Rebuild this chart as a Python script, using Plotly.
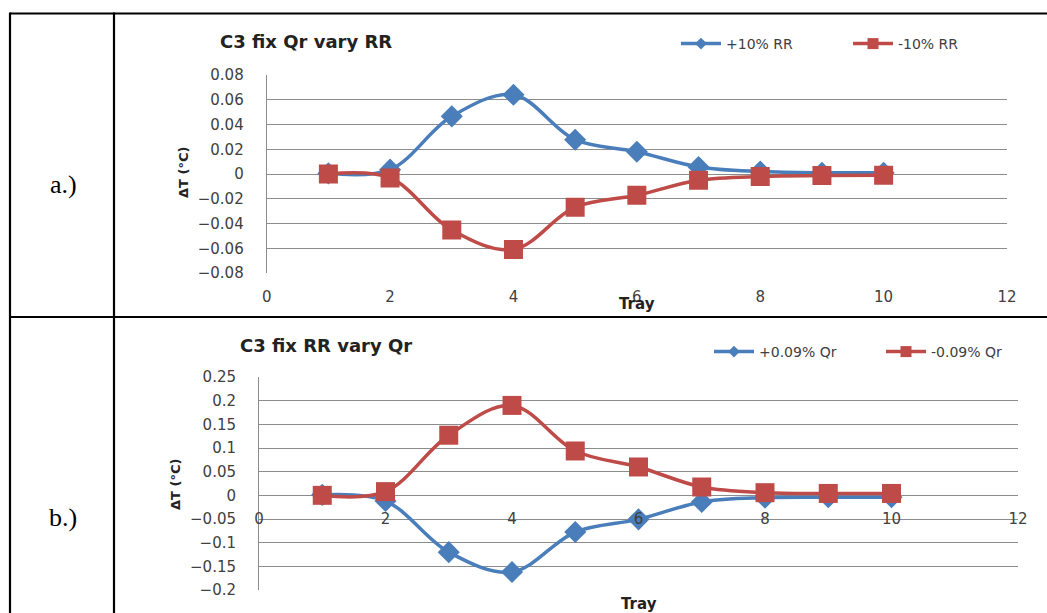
import plotly.graph_objects as go

W, H = 1047, 613

trays = [1, 2, 3, 4, 5, 6, 7, 8, 9, 10]
rr_plus = [0.0005, 0.0035, 0.0466, 0.064, 0.0277, 0.018, 0.0057, 0.002, 0.001, 0.001]
rr_minus = [0.0, -0.0032, -0.0453, -0.061, -0.0268, -0.0172, -0.0051, -0.002, -0.0013, -0.001]
qr_plus = [0.001, -0.012, -0.12, -0.162, -0.0775, -0.0507, -0.014, -0.005, -0.004, -0.004]
qr_minus = [0.0, 0.0078, 0.127, 0.190, 0.0937, 0.0599, 0.0176, 0.0056, 0.004, 0.004]

BLUE = "#4A7EBB"
RED = "#BE4B48"
GRID = "#8C8C8C"
FONT = "DejaVu Sans"


def px(x):
    return x / W


def py(y):
    return 1 - y / H


fig = go.Figure()


def add_pair(xa, ya, s1, n1, s2, n2, leg1, leg2):
    for s, n, col, sym, sz, leg in ((s1, n1, BLUE, "diamond", 17, leg1),
                                    (s2, n2, RED, "square", 19, leg2)):
        fig.add_trace(go.Scatter(
            x=trays, y=s, name=n, xaxis=xa, yaxis=ya, showlegend=False,
            mode="lines+markers",
            line=dict(color=col, width=3.5, shape="spline", smoothing=1),
            marker=dict(symbol=sym, size=sz, color=col)))
        fig.add_trace(go.Scatter(
            x=[None], y=[None], name=n, xaxis=xa, yaxis=ya, legend=leg,
            mode="lines+markers", line=dict(color=col, width=3.5),
            marker=dict(symbol=sym, size=9 if sym == "diamond" else 11, color=col)))


add_pair("x", "y", rr_plus, "+10% RR", rr_minus, "-10% RR", "legend", "legend2")
add_pair("x2", "y2", qr_plus, "+0.09% Qr", qr_minus, "-0.09% Qr", "legend3", "legend4")

tickfont = dict(family=FONT, size=15, color="#404040")

xcommon = dict(range=[0, 12], dtick=2, showgrid=False, zeroline=False, showline=False,
               ticks="outside", tickcolor="rgba(0,0,0,0)", tickfont=tickfont,
               fixedrange=True, automargin=False)
ycommon = dict(showgrid=True, gridcolor=GRID, gridwidth=1, zeroline=True,
               zerolinecolor=GRID, zerolinewidth=1, showline=True, linecolor=GRID,
               linewidth=1, ticks="", tickfont=tickfont, ticklabelstandoff=19,
               automargin=False, fixedrange=True)

a_x0, a_x1, a_y0, a_y1 = 266.7, 1007, 75, 273
b_x0, b_x1, b_y0, b_y1 = 259, 1018, 377, 590
b_zero = 496

legfont = dict(family=FONT, size=14, color="#404040")


def leg(xpix, ypix):
    return dict(orientation="h", x=px(xpix), y=py(ypix), xanchor="left", yanchor="middle",
                font=legfont, bgcolor="rgba(0,0,0,0)", itemsizing="trace", itemwidth=40)


fig.update_layout(
    width=W, height=H, autosize=False,
    margin=dict(l=0, r=0, t=0, b=0, pad=0, autoexpand=False),
    paper_bgcolor="white", plot_bgcolor="white",
    showlegend=True,
    xaxis=dict(domain=[px(a_x0), px(a_x1)], anchor="y", ticklen=10, **xcommon),
    yaxis=dict(domain=[py(a_y1), py(a_y0)], anchor="x", range=[-0.08, 0.08], dtick=0.02,
               **ycommon),
    xaxis2=dict(domain=[px(b_x0), px(b_x1)], anchor="free", position=py(b_zero),
                ticklen=9, **xcommon),
    yaxis2=dict(domain=[py(b_y1), py(b_y0)], anchor="x2", range=[-0.2, 0.25], dtick=0.05,
                **ycommon),
    legend=leg(676, 44),
    legend2=leg(848, 44),
    legend3=leg(709, 352),
    legend4=leg(881, 352),
)


def txt(text, x, y, size, xref="paper", angle=0, family=FONT, color="#222"):
    return dict(text=text, x=x, y=y, xref=xref, yref="paper", xanchor="center",
                yanchor="middle", showarrow=False, textangle=angle,
                font=dict(family=family, size=size, color=color))


ann = [
    txt("<b>C3 fix Qr vary RR</b>", px(306), py(41), 18),
    txt("<b>C3 fix RR vary Qr</b>", px(326), py(345), 18),
    txt("<b>ΔT (°C)</b>", px(183), py(173), 13, angle=-90),
    txt("<b>ΔT (°C)</b>", px(175), py(485), 13, angle=-90),
    txt("<b>Tray</b>", 0.5, py(304), 15, xref="x domain"),
    txt("<b>Tray</b>", 0.5, py(604), 15, xref="x2 domain"),
    txt("a.)", px(63), py(185), 26, family="Liberation Serif", color="black"),
    txt("b.)", px(63), py(517), 26, family="Liberation Serif", color="black"),
]
fig.update_layout(annotations=ann)

black = dict(color="black", width=2.2)
shapes = [
    dict(type="line", xref="paper", yref="paper", x0=px(10), x1=1.0, y0=py(13.5), y1=py(13.5), line=black),
    dict(type="line", xref="paper", yref="paper", x0=px(10), x1=1.0, y0=py(317), y1=py(317), line=black),
    dict(type="line", xref="paper", yref="paper", x0=px(10), x1=px(10), y0=py(12.5), y1=0, line=black),
    dict(type="line", xref="paper", yref="paper", x0=px(114), x1=px(114), y0=py(12.5), y1=0, line=black),
]
fig.update_layout(shapes=shapes)

fig.write_html("out.html")
